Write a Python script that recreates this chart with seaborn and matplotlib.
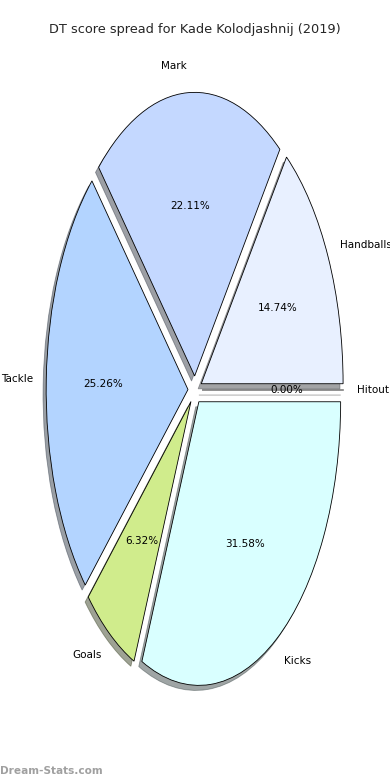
import matplotlib
matplotlib.use("Agg")
import matplotlib.pyplot as plt
import seaborn as sns

sns.set_theme(style="white")
plt.rcParams['font.family'] = ['DejaVu Sans']

categories = ["Handballs", "Mark", "Tackle", "Goals", "Kicks", "Hitout"]
values = [14, 21, 24, 6, 30, 0]
colors = ["#e8f0ff", "#c4d8ff", "#b3d4ff", "#d0ec8c", "#d9ffff", "#e0e0e0"]
explode = [0.05] * len(values)
title = "DT score spread for Kade Kolodjashnij (2019)"

fig = plt.figure(figsize=(3.9, 7.8), dpi=100)
ax = fig.add_axes([0.05, 0.05, 0.9, 0.9])
wedges, texts, autotexts = ax.pie(
    values, labels=categories, colors=colors, explode=explode,
    autopct="%1.2f%%", shadow={'ox': -0.016, 'oy': -0.013},
    startangle=0, counterclock=True, radius=1.01, labeldistance=1.093,
    wedgeprops=dict(edgecolor="black", linewidth=0.6),
    textprops=dict(fontsize=7.5, color="black"),
)
ax.set_aspect("auto")
ax.set_xlim(-1.25, 1.25)
ax.set_ylim(-1.25, 1.25)
fig.suptitle(title, fontsize=9.3, y=0.97)
fig.text(0.0, 0.005, "Dream-Stats.com", fontsize=7.6, color="#a0a0a0",
         ha="left", va="bottom", fontweight="semibold")
fig.savefig("out.png", dpi=100)
